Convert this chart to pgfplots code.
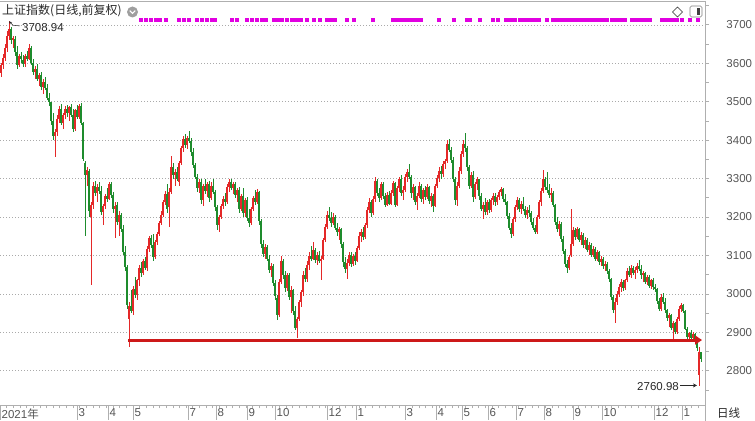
\documentclass[border=0pt]{standalone}
\usepackage{fontspec}
\setmainfont{Liberation Sans}
\newfontfamily\cjk{Noto Sans CJK SC}
\usepackage{pgfplots}
\pgfplotsset{compat=1.18}
\usepackage{pgfplotstable}
\usetikzlibrary{arrows.meta}

\definecolor{upc}{RGB}{228,40,40}
\definecolor{dnc}{RGB}{30,140,45}
\definecolor{trend}{RGB}{205,25,25}
\definecolor{sig}{RGB}{225,0,225}
\definecolor{axisgray}{RGB}{175,175,175}
\definecolor{gridgray}{RGB}{170,170,170}
\definecolor{lbl}{RGB}{85,85,85}
\definecolor{annot}{RGB}{40,40,40}

% daily candles, x = horizontal position, o h l c
\pgfplotstableread{
x o h l c
1 3575 3600 3565 3595
3 3595 3625 3585 3615
5 3615 3650 3605 3640
7 3640 3685 3630 3672
9 3672 3709 3660 3690
11 3688 3695 3650 3660
13 3660 3672 3640 3665
15 3663 3670 3620 3630
17 3630 3645 3585 3595
19 3596 3625 3590 3618
21 3618 3630 3600 3610
23 3608 3622 3590 3598
25 3598 3625 3590 3620
27 3620 3632 3605 3612
29 3612 3650 3608 3640
31 3640 3645 3595 3600
33 3600 3610 3570 3578
35 3578 3592 3560 3585
37 3585 3598 3555 3560
39 3560 3575 3540 3570
41 3570 3578 3530 3538
43 3538 3560 3520 3552
45 3552 3565 3530 3535
47 3535 3545 3505 3510
49 3510 3522 3490 3498
51 3498 3500 3440 3450
53 3450 3470 3400 3410
55 3410 3430 3357 3420
57 3420 3465 3412 3455
59 3455 3490 3445 3482
61 3482 3495 3440 3445
63 3445 3470 3428 3465
65 3465 3488 3455 3480
67 3480 3492 3460 3470
69 3470 3490 3450 3485
71 3485 3495 3460 3465
73 3465 3480 3420 3430
75 3430 3482 3425 3478
77 3478 3492 3455 3460
79 3460 3495 3455 3490
81 3490 3496 3440 3445
83 3445 3448 3345 3350
85 3340 3345 3150 3310
87 3310 3330 3280 3322
89 3320 3325 3200 3215
91 3200 3240 3024 3230
93 3230 3290 3220 3282
95 3282 3295 3255 3262
97 3262 3285 3240 3278
99 3278 3292 3260 3268
101 3268 3280 3205 3212
103 3212 3235 3180 3228
105 3228 3260 3222 3255
107 3255 3275 3240 3248
109 3248 3292 3245 3285
111 3285 3290 3250 3258
113 3258 3265 3210 3220
115 3220 3240 3145 3230
117 3230 3238 3180 3188
119 3188 3215 3150 3205
121 3205 3210 3160 3168
123 3168 3180 3100 3110
125 3110 3125 3060 3070
127 3070 3075 2960 2970
129 2935 2980 2863 2968
131 2968 3010 2950 2955
133 2955 3020 2945 3012
135 3012 3045 2990 2998
137 2998 3040 2985 3035
139 3035 3075 3020 3068
141 3068 3082 3045 3055
143 3055 3090 3050 3085
145 3085 3095 3062 3068
147 3068 3125 3060 3118
149 3118 3150 3110 3145
151 3145 3152 3120 3128
153 3128 3155 3085 3095
155 3095 3140 3090 3135
157 3135 3160 3128 3155
159 3155 3190 3150 3185
161 3185 3215 3178 3205
163 3205 3245 3200 3240
165 3240 3268 3230 3260
167 3260 3285 3210 3220
169 3225 3275 3175 3265
171 3265 3360 3260 3330
173 3330 3340 3300 3310
175 3310 3325 3280 3318
177 3318 3330 3295 3300
179 3290 3345 3282 3340
181 3340 3385 3335 3380
183 3380 3410 3370 3402
185 3402 3415 3380 3388
187 3388 3412 3378 3405
189 3405 3424 3392 3398
191 3398 3405 3360 3368
193 3368 3380 3328 3335
195 3335 3340 3300 3305
197 3305 3312 3265 3275
199 3275 3300 3262 3292
201 3292 3298 3235 3245
203 3245 3285 3230 3280
205 3280 3300 3260 3268
207 3268 3292 3252 3285
209 3285 3295 3240 3250
211 3250 3290 3245 3282
213 3282 3298 3260 3265
215 3265 3270 3215 3225
217 3225 3232 3165 3178
219 3178 3205 3160 3200
221 3200 3235 3195 3228
223 3228 3255 3220 3248
225 3248 3262 3230 3240
227 3240 3285 3235 3278
229 3278 3300 3265 3290
231 3290 3298 3270 3275
233 3275 3292 3260 3285
235 3285 3290 3250 3258
237 3258 3275 3240 3270
239 3270 3278 3210 3220
241 3220 3260 3215 3255
243 3255 3275 3200 3210
245 3210 3250 3200 3245
247 3245 3252 3190 3198
249 3198 3222 3175 3185
251 3185 3225 3180 3220
253 3220 3255 3215 3250
255 3250 3270 3232 3240
257 3240 3272 3235 3265
259 3265 3268 3180 3190
261 3190 3195 3120 3130
263 3130 3140 3095 3105
265 3105 3130 3090 3122
267 3122 3128 3085 3092
269 3092 3100 3055 3062
271 3062 3080 3045 3072
273 3072 3078 3020 3028
275 3028 3035 2985 2995
277 2990 2998 2932 2945
279 2945 3040 2940 3030
281 3030 3098 3025 3085
283 3085 3092 3040 3048
285 3048 3060 3005 3015
287 3015 3055 3008 3048
289 3048 3055 2985 2992
291 2992 3020 2950 3010
293 3010 3012 2945 2955
295 2955 2968 2905 2912
297 2912 2940 2886 2935
299 2935 2985 2930 2978
301 2978 3010 2965 3005
303 3005 3060 2995 3050
305 3050 3068 3030 3040
307 3040 3085 3030 3075
309 3075 3108 3062 3098
311 3098 3125 3085 3092
313 3092 3135 3088 3115
315 3115 3120 3080 3088
317 3088 3110 3075 3102
319 3102 3112 3080 3085
321 3085 3098 3035 3092
323 3092 3145 3088 3140
325 3140 3182 3135 3175
327 3175 3215 3170 3205
329 3205 3225 3190 3198
331 3198 3212 3175 3185
333 3185 3210 3178 3200
335 3200 3205 3165 3172
337 3172 3185 3150 3160
339 3160 3175 3140 3168
341 3168 3172 3120 3130
343 3130 3135 3070 3082
345 3082 3095 3055 3065
347 3065 3090 3038 3080
349 3080 3108 3072 3100
351 3100 3110 3070 3078
353 3078 3105 3072 3098
355 3098 3108 3075 3085
357 3085 3125 3082 3120
359 3120 3160 3115 3150
361 3150 3168 3135 3160
363 3160 3175 3140 3148
365 3148 3185 3142 3178
367 3178 3225 3172 3218
369 3218 3250 3210 3238
371 3238 3245 3200 3210
373 3210 3255 3205 3248
375 3248 3305 3240 3295
377 3295 3300 3255 3262
379 3262 3275 3240 3250
381 3250 3290 3245 3285
383 3285 3290 3248 3255
385 3255 3262 3225 3232
387 3232 3265 3228 3258
389 3258 3268 3230 3235
391 3235 3270 3230 3262
393 3262 3295 3255 3288
395 3288 3292 3225 3232
397 3232 3280 3228 3275
399 3275 3305 3265 3298
401 3298 3310 3255 3262
403 3262 3280 3245 3270
405 3270 3312 3265 3305
407 3305 3325 3290 3318
409 3318 3338 3298 3305
411 3305 3310 3250 3262
413 3262 3285 3245 3278
415 3278 3282 3230 3240
417 3240 3262 3218 3255
419 3255 3290 3250 3282
421 3282 3285 3240 3248
423 3248 3275 3235 3270
425 3270 3280 3245 3252
427 3252 3285 3248 3278
429 3278 3282 3235 3242
431 3242 3262 3225 3255
433 3255 3260 3213 3228
435 3228 3285 3225 3280
437 3280 3310 3275 3302
439 3302 3330 3290 3320
441 3320 3332 3300 3312
443 3312 3345 3305 3338
445 3338 3350 3325 3345
447 3345 3400 3340 3390
449 3390 3402 3370 3375
451 3375 3382 3340 3348
453 3348 3355 3290 3300
455 3300 3305 3232 3245
457 3245 3290 3228 3282
459 3282 3330 3275 3320
461 3320 3372 3312 3365
463 3365 3400 3355 3390
465 3390 3419 3370 3380
467 3380 3385 3320 3330
469 3330 3335 3272 3280
471 3280 3318 3275 3310
473 3310 3320 3240 3252
475 3252 3290 3248 3285
477 3285 3305 3270 3298
479 3298 3300 3245 3255
481 3255 3262 3215 3222
483 3222 3240 3195 3232
485 3232 3250 3205 3212
487 3212 3245 3205 3238
489 3238 3248 3210 3218
491 3218 3250 3212 3245
493 3245 3262 3232 3255
495 3255 3262 3228 3240
497 3240 3258 3232 3252
499 3252 3270 3245 3265
501 3265 3278 3255 3272
503 3272 3275 3240 3248
505 3248 3260 3232 3238
507 3238 3242 3195 3202
509 3202 3210 3165 3172
511 3172 3185 3146 3155
513 3155 3200 3150 3195
515 3195 3232 3188 3225
517 3225 3252 3218 3245
519 3245 3250 3212 3220
521 3220 3242 3208 3235
523 3235 3252 3215 3222
525 3222 3228 3198 3205
527 3205 3225 3195 3218
529 3218 3232 3200 3210
531 3210 3215 3180 3188
533 3188 3198 3165 3172
535 3172 3180 3155 3160
537 3160 3205 3155 3200
539 3200 3245 3195 3238
541 3238 3275 3230 3268
543 3268 3323 3262 3300
545 3300 3305 3270 3278
547 3278 3318 3262 3270
549 3270 3285 3250 3258
551 3258 3275 3240 3262
553 3262 3268 3225 3232
555 3232 3235 3180 3188
557 3188 3200 3160 3168
559 3168 3190 3150 3182
561 3182 3188 3135 3142
563 3142 3150 3105 3112
565 3112 3118 3070 3078
567 3078 3088 3055 3068
569 3068 3100 3062 3095
571 3100 3220 3095 3130
573 3130 3175 3125 3165
575 3165 3172 3140 3148
577 3148 3175 3142 3168
579 3168 3172 3135 3140
581 3140 3160 3128 3152
583 3152 3158 3120 3128
585 3128 3148 3118 3140
587 3140 3145 3110 3115
589 3115 3135 3100 3128
591 3128 3132 3095 3102
593 3102 3125 3095 3118
595 3118 3122 3085 3092
597 3092 3115 3085 3108
599 3108 3112 3075 3082
601 3082 3098 3072 3092
603 3092 3095 3065 3072
605 3072 3085 3060 3078
607 3078 3082 3052 3060
609 3060 3065 3030 3038
611 3038 3042 2985 2992
613 2992 2998 2950 2958
615 2958 2990 2925 2980
617 2980 3008 2972 3000
619 3000 3025 2992 3018
621 3018 3040 3005 3030
623 3030 3035 3008 3015
625 3015 3040 3010 3035
627 3035 3068 3030 3060
629 3060 3072 3045 3050
631 3050 3075 3042 3068
633 3068 3072 3048 3055
635 3055 3070 3040 3062
637 3062 3080 3055 3072
639 3072 3088 3060 3065
641 3065 3075 3040 3048
643 3048 3060 3032 3055
645 3055 3058 3025 3032
647 3032 3050 3022 3045
649 3045 3048 3015 3020
651 3020 3040 3012 3035
653 3035 3042 3010 3018
655 3018 3025 3005 3012
657 3012 3015 2975 2982
659 2982 2990 2955 2962
661 2962 3000 2955 2992
663 2992 3002 2975 2980
665 2980 2990 2950 2958
667 2958 2962 2930 2938
669 2938 2950 2915 2945
671 2945 2948 2905 2912
673 2912 2930 2882 2925
675 2925 2928 2895 2900
677 2900 2940 2895 2935
679 2935 2968 2930 2960
681 2960 2977 2952 2970
683 2970 2974 2950 2955
685 2955 2958 2905 2910
687 2910 2915 2880 2888
689 2888 2902 2876 2898
691 2898 2905 2880 2885
693 2885 2902 2880 2895
695 2895 2898 2870 2875
697 2875 2880 2852 2860
699 2790 2862 2761 2848
701 2848 2850 2822 2830
}\kdata

% signal markers along the top
\pgfplotstableread{
x y
141 3713
146 3713
151 3713
156 3713
160 3713
166 3713
179 3713
184 3713
189 3713
197 3713
202 3713
207 3713
212 3713
215 3713
232 3713
237 3713
247 3713
252 3713
257 3713
262 3713
266 3713
274 3713
276 3713
278 3713
280 3713
282 3713
287 3713
292 3713
295 3713
297 3713
301 3713
307 3713
314 3713
320 3713
327 3713
330 3713
333 3713
335 3713
347 3713
354 3713
373 3713
393 3713
395 3713
397 3713
399 3713
401 3713
403 3713
405 3713
407 3713
409 3713
413 3713
417 3713
421 3713
439 3713
454 3713
467 3713
470 3713
480 3713
493 3713
498 3713
506 3713
509 3713
512 3713
515 3713
520 3713
523 3713
526 3713
530 3713
533 3713
537 3713
539 3713
547 3713
553 3713
555 3713
557 3713
559 3713
561 3713
563 3713
565 3713
567 3713
569 3713
571 3713
573 3713
575 3713
577 3713
579 3713
581 3713
583 3713
585 3713
587 3713
589 3713
591 3713
593 3713
595 3713
597 3713
599 3713
601 3713
603 3713
605 3713
607 3713
612 3713
614 3713
616 3713
618 3713
620 3713
622 3713
625 3713
632 3713
634 3713
636 3713
638 3713
640 3713
642 3713
644 3713
646 3713
648 3713
650 3713
662 3713
664 3713
666 3713
668 3713
670 3713
672 3713
674 3713
677 3713
682 3713
690 3713
698 3713
}\sigdata

\begin{document}
\begin{tikzpicture}
\useasboundingbox (0,-16bp) rectangle (755bp,405bp);
\begin{axis}[
    scale only axis,
    width=705bp, height=404bp,
    xmin=0, xmax=705, ymin=2711, ymax=3762,
    clip=false,
    axis x line*=bottom, axis y line*=right,
    axis line style={-, draw=axisgray, line width=0.8bp},
    tick align=outside,
    tick style={draw=axisgray, line width=0.8bp},
    xtick style={/pgfplots/major tick length=15bp},
    ytick style={/pgfplots/major tick length=4bp},
    minor tick length=3.5bp,
    xtick={0,77,108,133,188,216,247,275,327,356,405,436,462,488,516,544,573,602,654,682},
    xticklabels={2021{\cjk 年},3,4,5,7,8,9,10,12,1,3,4,5,6,7,8,9,10,12,1},
    minor xtick={0,6.65,...,705},
    ytick={2800,2900,...,3700},
    minor ytick={2750,2850,...,3750},
    ymajorgrids,
    major grid style={draw=gridgray, dash pattern=on 1bp off 2bp, line width=0.6bp},
    every tick label/.append style={font=\fontsize{11.5bp}{13bp}\selectfont, text=lbl, inner sep=0pt},
    xticklabel style={anchor=north west, xshift=1.5bp, yshift=0.5bp},
    yticklabel style={anchor=west, xshift=17bp},
    /pgf/number format/1000 sep={},
    /pgf/number format/assume math mode=true,
]
% wicks and bodies of rising days
\addplot[draw=none, mark=none, forget plot,
    restrict expr to domain={\thisrow{c}-\thisrow{o}}{0:1000},
    error bars/.cd, y dir=both, y explicit, error mark=none,
    error bar style={draw=upc, line width=0.55bp}]
    table[x=x, y expr={(\thisrow{h}+\thisrow{l})/2}, y error expr={(\thisrow{h}-\thisrow{l})/2}] {\kdata};
\addplot[draw=none, mark=none, forget plot,
    restrict expr to domain={\thisrow{c}-\thisrow{o}}{0:1000},
    error bars/.cd, y dir=both, y explicit, error mark=none,
    error bar style={draw=upc, line width=1.2bp}]
    table[x=x, y expr={(\thisrow{o}+\thisrow{c})/2}, y error expr={(\thisrow{c}-\thisrow{o})/2}] {\kdata};
% falling days
\addplot[draw=none, mark=none, forget plot,
    restrict expr to domain={\thisrow{c}-\thisrow{o}}{-1000:-0.5},
    error bars/.cd, y dir=both, y explicit, error mark=none,
    error bar style={draw=dnc, line width=0.55bp}]
    table[x=x, y expr={(\thisrow{h}+\thisrow{l})/2}, y error expr={(\thisrow{h}-\thisrow{l})/2}] {\kdata};
\addplot[draw=none, mark=none, forget plot,
    restrict expr to domain={\thisrow{c}-\thisrow{o}}{-1000:-0.5},
    error bars/.cd, y dir=both, y explicit, error mark=none,
    error bar style={draw=dnc, line width=1.2bp}]
    table[x=x, y expr={(\thisrow{o}+\thisrow{c})/2}, y error expr={(\thisrow{o}-\thisrow{c})/2}] {\kdata};

\addplot[sig, only marks, mark=square*, mark size=1.3bp, mark options={draw=sig, fill=sig, line width=0pt}]
    table[x=x, y=y] {\sigdata};

% support line
\addplot[trend, line width=3bp, -{Triangle[length=7bp,width=9bp]}]
    coordinates {(128,2880) (702,2880)};

\node[anchor=west, inner sep=0pt, text=annot, font=\fontsize{11.5bp}{13bp}\selectfont]
    at (axis cs:22,3694) {3708.94};
\draw[annot, line width=0.5bp, -{Stealth[length=3bp,width=3bp]}] (axis cs:20,3697) -- (axis cs:13,3699) -- (axis cs:9,3709);
\node[anchor=east, inner sep=0pt, text=annot, font=\fontsize{11.5bp}{13bp}\selectfont]
    at (axis cs:679,2760) {2760.98};
\draw[annot, line width=0.5bp, -{Stealth[length=4bp,width=4bp]}] (axis cs:680,2762) -- (axis cs:697,2762);
\end{axis}

% frame pieces, title and icons
\draw[axisgray, line width=0.8bp] (0,404bp) -- (705bp,404bp);
\draw[axisgray, line width=0.8bp] (705bp,404bp) -- (705bp,-16bp);
\node[anchor=west, inner sep=0pt, text=annot, font=\cjk\fontsize{12bp}{14bp}\selectfont]
    at (2bp,394bp) {上证指数(日线,前复权)};
\fill[gray!75] (132.5bp,393bp) circle (5.5bp);
\draw[white, line width=1.1bp] (129.8bp,394.4bp) -- (132.5bp,391.6bp) -- (135.2bp,394.4bp);
\draw[annot, line width=0.6bp] (677.5bp,398bp) -- (682.5bp,393bp) -- (677.5bp,388bp) -- (672.5bp,393bp) -- cycle;
\draw[gray, line width=0.6bp, rounded corners=1.5bp] (690bp,388bp) rectangle (702bp,399bp);
\fill[darkgray] (696.5bp,390bp) rectangle (699.5bp,397bp);
\node[anchor=west, inner sep=0pt, text=annot, font=\cjk\fontsize{11.5bp}{13bp}\selectfont]
    at (717bp,-8bp) {日线};
\end{tikzpicture}
\end{document}
